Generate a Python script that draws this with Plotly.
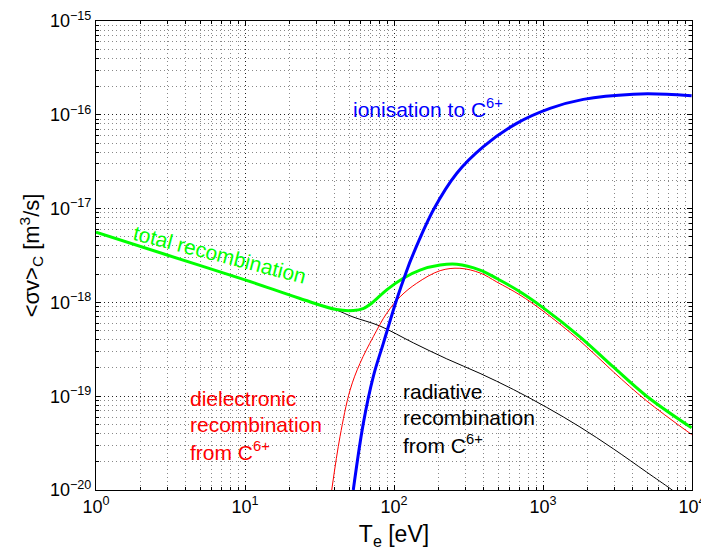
import plotly.graph_objects as go

# ---- data (T_e in eV, <sigma v> in m^3/s) ----
T_rad = [1, 3, 10, 23.4, 41, 53, 80.5, 135, 226, 378, 632, 1059, 1770, 2965, 4965, 7115, 7600]
sv_rad = [5.6e-18, 3.2e-18, 1.74e-18, 1.1e-18, 8.3e-19, 7.0e-19, 5.6e-19, 3.7e-19,
          2.5e-19, 1.75e-19, 1.18e-19, 7.6e-20, 4.7e-20, 2.75e-20, 1.55e-20, 1.04e-20, 9.6e-21]

T_die = [38.2, 43.4, 50.7, 59.1, 72.6, 89.3, 110, 142, 204, 277, 378, 490, 700, 1000,
         1770, 2965, 4965, 9950]
sv_die = [1.0e-20, 3.7e-20, 1.16e-19, 2.24e-19, 4.3e-19, 7.65e-19, 1.15e-18, 1.6e-18,
          2.18e-18, 2.31e-18, 2.06e-18, 1.65e-18, 1.2e-18, 8.1e-19, 3.9e-19, 1.82e-19,
          8.9e-20, 3.9e-20]

T_tot = [1, 3, 10, 23.4, 41, 53.3, 62, 70.8, 89.3, 115.5, 149.5, 204, 264, 378, 490,
         700, 1000, 1770, 2965, 4965, 9950]
sv_tot = [5.6e-18, 3.2e-18, 1.74e-18, 1.1e-18, 8.4e-19, 8.2e-19, 8.6e-19, 9.8e-19,
          1.36e-18, 1.81e-18, 2.21e-18, 2.5e-18, 2.55e-18, 2.21e-18, 1.8e-18, 1.3e-18,
          8.8e-19, 4.3e-19, 2.05e-19, 1.0e-19, 4.6e-20]

T_ion = [53.3, 62.2, 72.6, 84.8, 104, 122, 131.5, 184, 264, 398, 666, 1114, 1864, 4034, 6760, 9950]
sv_ion = [1.0e-20, 5.1e-20, 1.62e-19, 3.66e-19, 1.06e-18, 2.2e-18, 3.0e-18, 9.7e-18,
          2.38e-17, 4.57e-17, 8.1e-17, 1.17e-16, 1.46e-16, 1.66e-16, 1.66e-16, 1.6e-16]

x_tickvals = [1, 10, 100, 1000, 10000]
x_ticktext = ["10<sup>0</sup>", "10<sup>1</sup>", "10<sup>2</sup>", "10<sup>3</sup>", "10<sup>4</sup>"]
y_tickvals = [1e-20, 1e-19, 1e-18, 1e-17, 1e-16, 1e-15]
y_ticktext = ["10<sup>\u221220</sup>", "10<sup>\u221219</sup>", "10<sup>\u221218</sup>",
              "10<sup>\u221217</sup>", "10<sup>\u221216</sup>", "10<sup>\u221215</sup>"]

FONT = "Liberation Sans, Arial, Helvetica, sans-serif"

fig = go.Figure()
line_opts = dict(shape="spline", smoothing=1.0)
fig.add_trace(go.Scatter(x=T_rad, y=sv_rad, mode="lines", line=dict(color="black", width=1, **line_opts), showlegend=False))
fig.add_trace(go.Scatter(x=T_die, y=sv_die, mode="lines", line=dict(color="#ff0000", width=1, **line_opts), showlegend=False))
fig.add_trace(go.Scatter(x=T_tot, y=sv_tot, mode="lines", line=dict(color="#00ff00", width=3, **line_opts), showlegend=False))
fig.add_trace(go.Scatter(x=T_ion, y=sv_ion, mode="lines", line=dict(color="#0000ff", width=3, **line_opts), showlegend=False))

axis_common = dict(
    type="log", showline=True, linecolor="black", linewidth=1, mirror="ticks",
    ticks="inside", ticklen=5, tickcolor="black",
    showgrid=True, gridcolor="#222", griddash="1px,3px", gridwidth=1,
    zeroline=False, ticklabeloverflow="allow", automargin=False,
    minor=dict(dtick="D1", ticks="inside", ticklen=3, tickcolor="black",
               showgrid=True, gridcolor="#888", griddash="1px,3px", gridwidth=1),
    tickfont=dict(size=18, color="black", family=FONT),
)

fig.update_xaxes(**axis_common, range=[0, 4.00001], tickvals=x_tickvals, ticktext=x_ticktext,
                 title=dict(text="T<sub>e</sub> [eV]", font=dict(size=23, color="black", family=FONT), standoff=10))
fig.update_yaxes(**axis_common, range=[-20, -15], tickvals=y_tickvals, ticktext=y_ticktext,
                 title=dict(text="<\u03c3v><sub>C</sub> [m<sup>3</sup>/s]", font=dict(size=22, color="black", family=FONT), standoff=4))

ann_font = 21
annos = [
    dict(x=2.228, y=-15.93, text="ionisation to C<sup>6+</sup>", color="#0000ff", xanchor="center", angle=0),
    dict(x=0.832, y=-17.49, text="total recombination", color="#00ff00", xanchor="center", angle=14.5),
    dict(x=0.617, y=-19.02, text="dielectronic", color="#ff0000", xanchor="left", angle=0),
    dict(x=0.617, y=-19.30, text="recombination", color="#ff0000", xanchor="left", angle=0),
    dict(x=0.617, y=-19.58, text="from C<sup>6+</sup>", color="#ff0000", xanchor="left", angle=0),
    dict(x=2.047, y=-18.945, text="radiative", color="black", xanchor="left", angle=0),
    dict(x=2.047, y=-19.222, text="recombination", color="black", xanchor="left", angle=0),
    dict(x=2.047, y=-19.51, text="from C<sup>6+</sup>", color="black", xanchor="left", angle=0),
]
for a in annos:
    fig.add_annotation(x=a["x"], y=a["y"], xref="x", yref="y", text=a["text"], showarrow=False,
                       xanchor=a["xanchor"], yanchor="middle", textangle=a["angle"],
                       font=dict(size=ann_font, color=a["color"], family=FONT))

fig.update_layout(
    width=701, height=554,
    margin=dict(l=96, r=9, t=21, b=64, autoexpand=False),
    paper_bgcolor="white", plot_bgcolor="white",
    font=dict(family=FONT, color="black"),
    showlegend=False,
)

fig.write_html("out.html")
